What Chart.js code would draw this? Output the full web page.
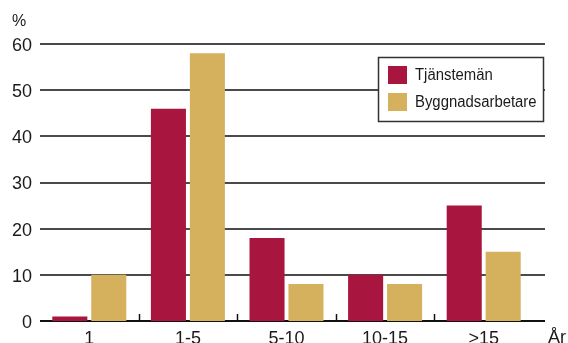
<!DOCTYPE html>
<html>
<head>
<meta charset="utf-8">
<script src="https://cdn.jsdelivr.net/npm/chart.js@4/dist/chart.umd.min.js"></script>
<style>
  html, body { margin: 0; padding: 0; background: #fff; }
  canvas { display: block; }
</style>
</head>
<body>
<canvas id="c" width="568" height="343"></canvas>
<script>
// Anställningstid i år, andel i procent
const categories = ['1', '1-5', '5-10', '10-15', '>15'];
const tjanstemanValues = [1, 46, 18, 10, 25];
const byggnadsarbetareValues = [10, 58, 8, 8, 15];
const seriesNames = ['Tjänstemän', 'Byggnadsarbetare'];
const yMax = 60;
const yStep = 10;

const RED = '#A8163F';
const GOLD = '#D5B05D';
const FONT = '"Liberation Sans", Arial, sans-serif';

// Grid lines, axis line, boundary ticks, legend box and unit labels
const decor = {
  id: 'decor',
  beforeDatasetsDraw(chart) {
    const { ctx, chartArea: a, scales: { x, y } } = chart;
    ctx.save();
    y.ticks.forEach(t => {
      const py = Math.round(y.getPixelForValue(t.value));
      ctx.strokeStyle = t.value === 0 ? '#111' : '#4a4a4a';
      ctx.lineWidth = 2;
      ctx.beginPath();
      ctx.moveTo(a.left, py);
      ctx.lineTo(a.right + 12, py);
      ctx.stroke();
    });
    const y0 = Math.round(y.getPixelForValue(0));
    ctx.strokeStyle = '#111';
    ctx.lineWidth = 1.5;
    for (let i = 0; i < categories.length - 1; i++) {
      const bx = Math.round((x.getPixelForValue(i) + x.getPixelForValue(i + 1)) / 2) + 0.5;
      ctx.beginPath();
      ctx.moveTo(bx, y0 - 7);
      ctx.lineTo(bx, y0);
      ctx.stroke();
    }
    ctx.restore();
  },
  afterDraw(chart) {
    const { ctx, chartArea: a } = chart;
    ctx.save();
    // unit labels
    ctx.fillStyle = '#1a1a1a';
    ctx.font = '16px ' + FONT;
    ctx.textBaseline = 'alphabetic';
    ctx.textAlign = 'left';
    ctx.fillText('%', 12, 26);
    ctx.font = '18px ' + FONT;
    ctx.fillText('År', a.right + 15, 343);

    // legend
    const bx = a.right - 155, by = 57, bw = 165, bh = 64;
    ctx.fillStyle = '#fff';
    ctx.fillRect(bx, by, bw, bh);
    ctx.strokeStyle = '#333';
    ctx.lineWidth = 1.5;
    ctx.strokeRect(bx + 0.5, by + 0.5, bw, bh);
    ctx.font = '16px ' + FONT;
    ctx.textBaseline = 'middle';
    chart.data.datasets.forEach((ds, i) => {
      const ry = by + 9 + i * 27;
      ctx.fillStyle = ds.backgroundColor;
      ctx.fillRect(bx + 10, ry, 19, 18);
      ctx.fillStyle = '#1a1a1a';
      // slightly condensed legend lettering
      ctx.save();
      ctx.translate(bx + 37, ry + 9.5);
      ctx.scale(0.93, 1);
      ctx.fillText(ds.label, 0, 0);
      ctx.restore();
    });
    ctx.restore();
  }
};

new Chart(document.getElementById('c'), {
  type: 'bar',
  data: {
    labels: categories,
    datasets: [
      { label: seriesNames[0], data: tjanstemanValues, backgroundColor: RED },
      { label: seriesNames[1], data: byggnadsarbetareValues, backgroundColor: GOLD }
    ]
  },
  options: {
    responsive: false,
    animation: false,
    devicePixelRatio: 1,
    layout: { padding: { top: 44, right: 35, left: 0, bottom: 0 } },
    datasets: {
      bar: { categoryPercentage: 0.79, barPercentage: 0.9 }
    },
    plugins: {
      legend: { display: false },
      tooltip: { enabled: false },
      title: { display: false }
    },
    scales: {
      x: {
        grid: { display: false, drawTicks: false },
        border: { display: false },
        ticks: {
          font: { family: FONT, size: 18 },
          color: '#1a1a1a',
          padding: 7,
          maxRotation: 0,
          autoSkip: false
        },
        afterFit(scale) { scale.height = 22; }
      },
      y: {
        min: 0,
        max: yMax,
        grid: { display: false, drawTicks: false },
        border: { display: false },
        ticks: {
          stepSize: yStep,
          font: { family: FONT, size: 18 },
          color: '#1a1a1a',
          padding: 8,
          labelOffset: 2
        },
        afterFit(scale) { scale.width = 40; }
      }
    }
  },
  plugins: [decor]
});
</script>
</body>
</html>
